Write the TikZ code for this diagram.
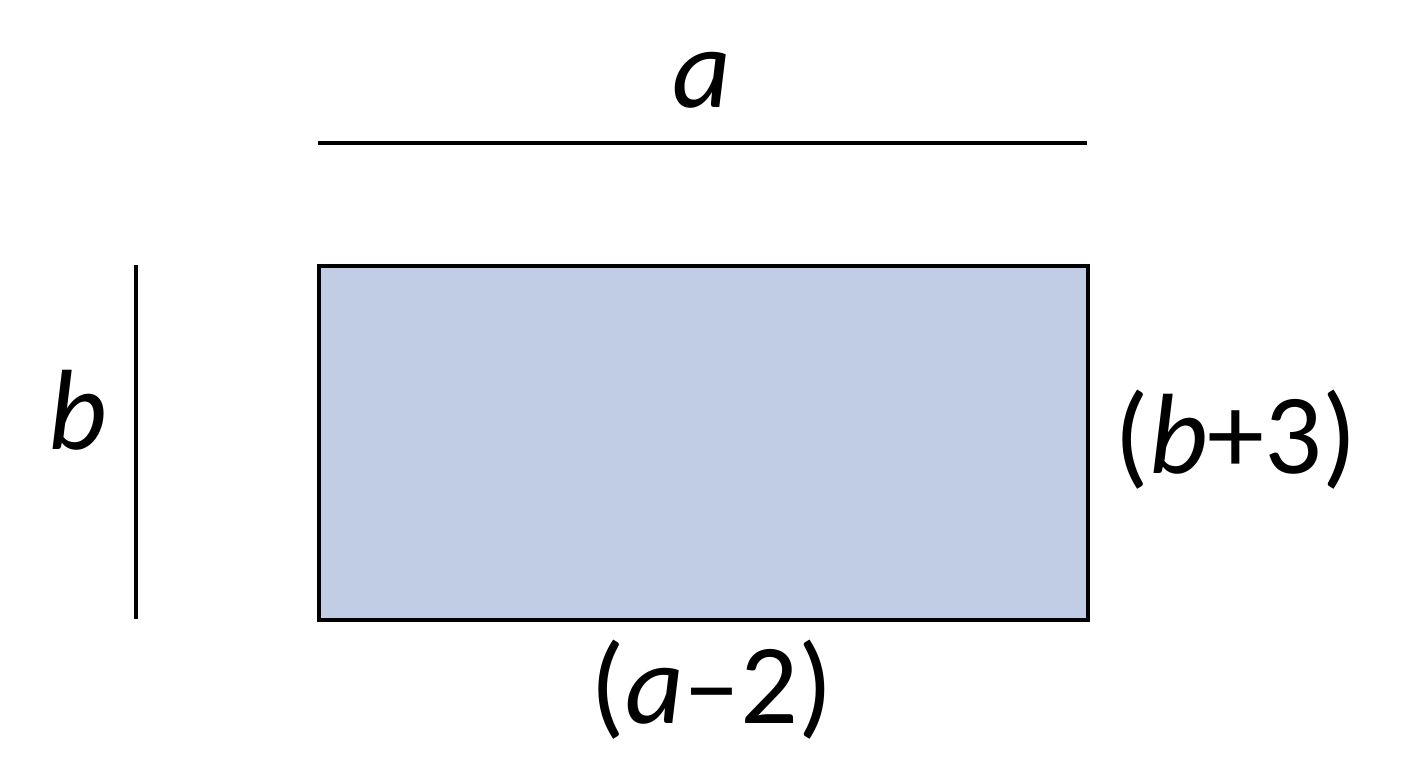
\documentclass[tikz,border=0pt]{standalone}
\usepackage{fontspec}
\setmainfont{Carlito}
\usetikzlibrary{calc}
\usetikzlibrary{positioning}
\definecolor{paleblue}{RGB}{193,205,228}

\begin{document}
\begin{tikzpicture}[x=0.02cm, y=-0.02cm, lbl/.style={font=\fontsize{65}{68}\selectfont, inner sep=0pt}]
		\useasboundingbox (0,0) rectangle (1408,768);

		\coordinate (R1) at (319,266);
		\coordinate (R2) at (1088,620);
		\fill[paleblue] (R1) rectangle (R2);
		\draw[black, line width=2.6pt] (R1) rectangle (R2);

		\draw[black, line width=2.6pt] (318,143) -- (1087,143);
		\draw[black, line width=2.6pt] (136,265) -- (136,619);

		\node[lbl] (a) at (702,80) {\textit{a}};
		\node[lbl] (b) at (78,410) {\textit{b}};
		\node[lbl] (bplus) at (1236,440) {(\textit{b}+3)};
		\node[lbl] (aminus) at (712,690) {(\textit{a}--2)};
	\end{tikzpicture}
\end{document}
